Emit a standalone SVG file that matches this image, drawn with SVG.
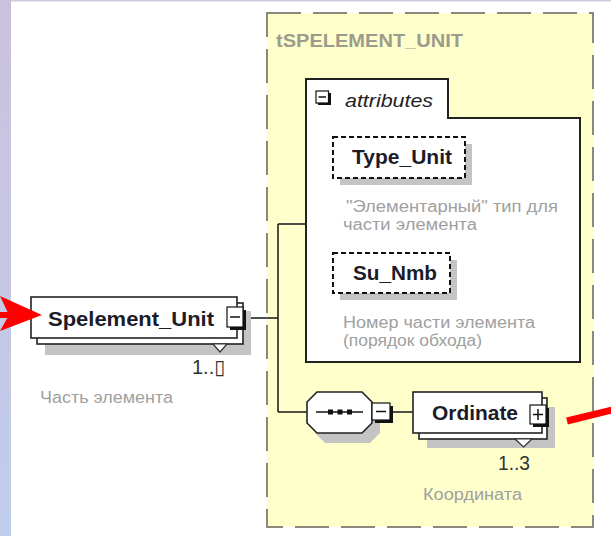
<svg xmlns="http://www.w3.org/2000/svg" width="611" height="536" viewBox="0 0 611 536">
<defs>
<linearGradient id="strip" x1="0" y1="0" x2="0" y2="1">
<stop offset="0" stop-color="#cbc1dd"/>
<stop offset="1" stop-color="#c0cdec"/>
</linearGradient>
<style>
.box{fill:#fff;stroke:#222;stroke-width:1.6}
.shadow{fill:#c4c4c4;stroke:none}
.dashbox{fill:#fff;stroke:#111;stroke-width:2;stroke-dasharray:5 3}
.icon{fill:#fff;stroke:#111;stroke-width:1.2}
.iconsh{fill:#111}
.sign{stroke:#111;stroke-width:1.5;fill:none}
.name{font-family:"Liberation Sans",Arial,sans-serif;font-weight:bold;font-size:21px;fill:#1c1c28}
.desc{font-family:"Liberation Sans",Arial,sans-serif;font-size:16px;fill:#a0a0a0}
.card{font-family:"Liberation Sans","DejaVu Sans",Arial,sans-serif;font-size:20px;fill:#333}
.conn{stroke:#222;stroke-width:1.6;fill:none}
.notch{fill:#fff;stroke:#333;stroke-width:1.2}
</style>
</defs>
<rect x="0" y="0" width="611" height="536" fill="#fff"/>
<rect x="0" y="0" width="11" height="536" fill="url(#strip)"/>
<rect x="11" y="0" width="600" height="1.5" fill="#d2cae2"/>

<g id="tSPELEMENT_UNIT">
<rect x="267" y="13" width="326" height="514" fill="#ffffcc" stroke="#8a8a7c" stroke-width="2" stroke-dasharray="34 12"/>
<text x="276" y="47" font-family="'Liberation Sans',Arial,sans-serif" font-weight="bold" font-size="18" fill="#9c9c8c" textLength="187" lengthAdjust="spacingAndGlyphs">tSPELEMENT_UNIT</text>
</g>

<g id="connectors">
<line class="conn" x1="246" y1="318" x2="278" y2="318"/>
<line class="conn" x1="278" y1="224" x2="278" y2="412"/>
<line class="conn" x1="278" y1="224" x2="306" y2="224"/>
<line class="conn" x1="278" y1="412" x2="307" y2="412"/>
<line class="conn" x1="393" y1="412" x2="413" y2="412"/>
</g>

<g id="attributes">
<path d="M306,79 H448 V118 H580 V362 H306 Z" fill="#fff" stroke="#222" stroke-width="2"/>
<rect class="iconsh" x="318" y="93" width="13" height="12"/>
<rect class="icon" x="316" y="91" width="12.5" height="12"/>
<line class="sign" x1="318.5" y1="97" x2="326" y2="97"/>
<text x="345" y="107" font-family="'Liberation Sans',Arial,sans-serif" font-style="italic" font-size="19" fill="#222" textLength="88" lengthAdjust="spacingAndGlyphs">attributes</text>
</g>

<g id="Type_Unit">
<rect class="shadow" x="340" y="144" width="132" height="41"/>
<rect class="dashbox" x="333" y="137" width="132" height="41"/>
<text class="name" x="352" y="164" textLength="100" lengthAdjust="spacingAndGlyphs">Type_Unit</text>
<text class="desc" x="346" y="212" textLength="212" lengthAdjust="spacingAndGlyphs">"Элементарный"  тип для</text>
<text class="desc" x="343" y="230" textLength="134" lengthAdjust="spacingAndGlyphs">части элемента</text>
</g>

<g id="Su_Nmb">
<rect class="shadow" x="340" y="260" width="117" height="40"/>
<rect class="dashbox" x="333" y="253" width="117" height="40"/>
<text class="name" x="353" y="280" textLength="84" lengthAdjust="spacingAndGlyphs">Su_Nmb</text>
<text class="desc" x="343" y="328" textLength="192" lengthAdjust="spacingAndGlyphs">Номер части элемента</text>
<text class="desc" x="343" y="346" textLength="139" lengthAdjust="spacingAndGlyphs">(порядок обхода)</text>
</g>

<g id="Spelement_Unit">
<rect class="shadow" x="45" y="311" width="206" height="44"/>
<rect class="box" x="37" y="303" width="206" height="41"/>
<rect class="box" x="31" y="297" width="206" height="41"/>
<polygon class="notch" points="213,344 227,344 220,352"/>
<rect class="iconsh" x="230" y="310" width="16" height="20"/>
<rect class="icon" x="227" y="307" width="16" height="20"/>
<line class="sign" x1="230" y1="317" x2="240" y2="317"/>
<text class="name" x="48" y="326" textLength="166" lengthAdjust="spacingAndGlyphs">Spelement_Unit</text>
<text class="card" x="192" y="374">1..▯</text>
<text class="desc" x="40" y="403" textLength="133" lengthAdjust="spacingAndGlyphs">Часть элемента</text>
</g>

<g id="sequence">
<polygon class="shadow" points="325,402 370,402 380,412 380,433 370,443 325,443 315,433 315,412"/>
<polygon class="box" points="317,392 362,392 372,402 372,423 362,433 317,433 307,423 307,402"/>
<line x1="316" y1="412" x2="363" y2="412" stroke="#111" stroke-width="1.5"/>
<rect x="328" y="409.5" width="5" height="5" fill="#111"/>
<rect x="337.5" y="409.5" width="5" height="5" fill="#111"/>
<rect x="347" y="409.5" width="5" height="5" fill="#111"/>
<rect class="iconsh" x="375" y="406" width="18" height="17"/>
<rect class="icon" x="372" y="403" width="18" height="17"/>
<line class="sign" x1="376" y1="411.5" x2="386" y2="411.5"/>
</g>

<g id="Ordinate">
<rect class="shadow" x="427" y="407" width="128" height="41"/>
<rect class="box" x="419" y="398" width="128" height="41"/>
<rect class="box" x="413" y="392" width="129" height="41"/>
<polygon class="notch" points="515,439 532,439 523.5,447"/>
<rect class="iconsh" x="533" y="408" width="16" height="19"/>
<rect class="icon" x="530" y="405" width="16" height="19"/>
<line class="sign" x1="533" y1="414.5" x2="543" y2="414.5"/>
<line class="sign" x1="538" y1="409" x2="538" y2="420"/>
<text class="name" x="432" y="420" textLength="86" lengthAdjust="spacingAndGlyphs">Ordinate</text>
<text class="card" x="498" y="470" textLength="32" lengthAdjust="spacingAndGlyphs">1..3</text>
<text class="desc" x="423" y="500" textLength="99" lengthAdjust="spacingAndGlyphs">Координата</text>
</g>

<g id="pointers">
<polygon points="0,296 42,315 0,331 9,315" fill="#ff0000"/>
<rect x="0" y="312" width="10" height="6" fill="#ff0000"/>
<line x1="567" y1="421" x2="612" y2="410" stroke="#ff0000" stroke-width="7"/>
</g>
</svg>
